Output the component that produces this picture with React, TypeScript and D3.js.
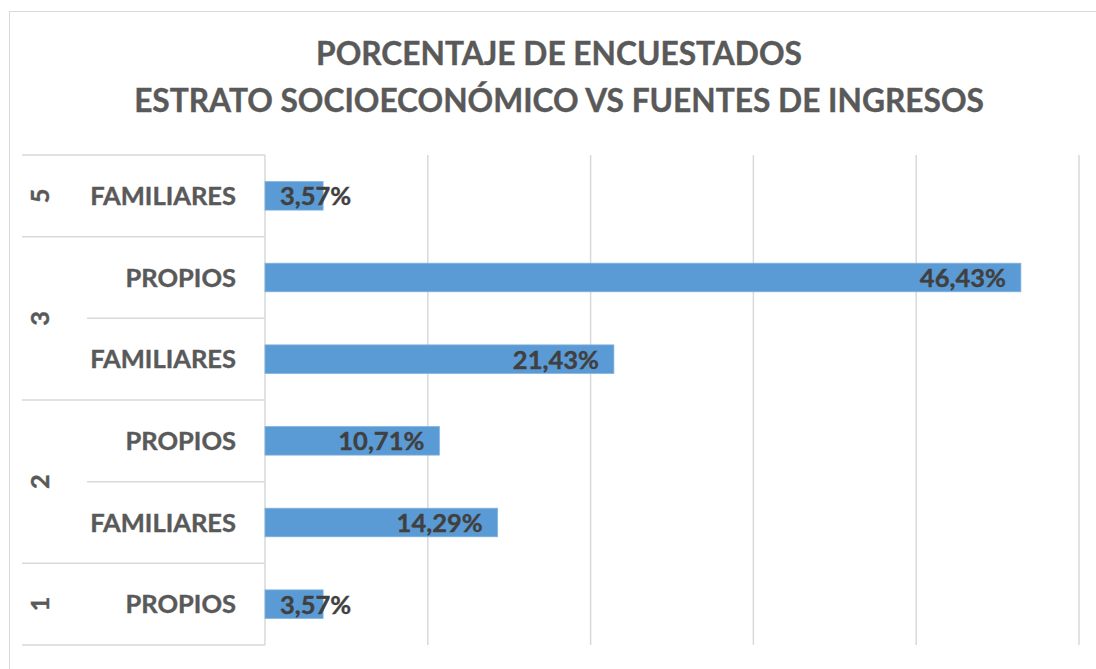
import { useEffect, useRef } from "react";
import * as d3 from "d3";

// rows listed from the bottom of the chart upward (Excel order)
const estratos = ["1", "2", "2", "3", "3", "5"];
const fuentes = ["PROPIOS", "FAMILIARES", "PROPIOS", "FAMILIARES", "PROPIOS", "FAMILIARES"];
const porcentajes = [3.57, 14.29, 10.71, 21.43, 46.43, 3.57];
const xTicks = [0, 10, 20, 30, 40, 50];
const titleLines = ["PORCENTAJE DE ENCUESTADOS", "ESTRATO SOCIOECONÓMICO VS FUENTES DE INGRESOS"];

export default function App() {
  const ref = useRef<SVGSVGElement | null>(null);

  useEffect(() => {
    if (!ref.current) return;

    const width = 1096;
    const height = 669;
    const margin = { top: 155, right: 17, bottom: 24, left: 265 };
    const font = "Lato, 'Open Sans', sans-serif";

    const svg = d3.select(ref.current).attr("viewBox", `0 0 ${width} ${height}`);
    svg.selectAll("*").remove();

    // chart frame
    svg.append("rect")
      .attr("x", 9.5)
      .attr("y", 11.5)
      .attr("width", width)
      .attr("height", height)
      .attr("fill", "#fff")
      .attr("stroke", "#d9d9d9");

    /* ---------------- TITLE ---------------- */

    svg.selectAll(".title")
      .data(titleLines)
      .enter()
      .append("text")
      .attr("x", 559)
      .attr("y", (_, i) => 65 + i * 47)
      .attr("text-anchor", "middle")
      .attr("font-family", font)
      .attr("font-weight", 700)
      .attr("font-size", 31.7)
      .attr("fill", "#595959")
      .attr("stroke", "#595959")
      .attr("stroke-width", 0.4)
      .text(d => d);

    const x = d3.scaleLinear()
      .domain([0, 50])
      .range([margin.left, width - margin.right]);

    const rows = d3.range(porcentajes.length);
    const y = d3.scaleBand<number>()
      .domain(rows)
      .range([height - margin.bottom, margin.top]);

    const step = y.step();
    const barH = step * 0.35;

    /* ---------------- GRID LINES ---------------- */

    svg.selectAll(".grid")
      .data(xTicks)
      .enter()
      .append("line")
      .attr("x1", d => x(d))
      .attr("x2", d => x(d))
      .attr("y1", margin.top)
      .attr("y2", height - margin.bottom)
      .attr("stroke", "#d9d9d9")
      .attr("stroke-width", 1.5);

    /* ---------------- CATEGORY AXIS ---------------- */

    // boundaries between rows: long line when estrato changes
    const bounds = d3.range(porcentajes.length + 1).map(i => {
      const yy = i === porcentajes.length ? y(i - 1)! : y(i)! + step;
      const outer = i === 0 || i === porcentajes.length || estratos[i] !== estratos[i - 1];
      return { yy, outer };
    });

    svg.selectAll(".sep")
      .data(bounds)
      .enter()
      .append("line")
      .attr("x1", d => (d.outer ? 22 : 87))
      .attr("x2", margin.left)
      .attr("y1", d => d.yy)
      .attr("y2", d => d.yy)
      .attr("stroke", "#d9d9d9")
      .attr("stroke-width", 1.5);

    svg.selectAll(".fuente")
      .data(fuentes)
      .enter()
      .append("text")
      .attr("x", 236)
      .attr("y", (_, i) => y(i)! + step / 2)
      .attr("dy", "0.36em")
      .attr("text-anchor", "end")
      .attr("font-family", font)
      .attr("font-weight", 700)
      .attr("font-size", 25.5)
      .attr("fill", "#595959")
      .attr("stroke", "#595959")
      .attr("stroke-width", 0.4)
      .text(d => d);

    const groups = Array.from(d3.group(rows, i => estratos[i]), ([k, idx]) => ({
      k,
      mid: (d3.min(idx, i => y(i)!)! + d3.max(idx, i => y(i)!)! + step) / 2,
    }));

    svg.selectAll(".estrato")
      .data(groups)
      .enter()
      .append("text")
      .attr("transform", d => `translate(40,${d.mid}) rotate(-90)`)
      .attr("dy", "0.36em")
      .attr("text-anchor", "middle")
      .attr("font-family", font)
      .attr("font-weight", 700)
      .attr("font-size", 25.5)
      .attr("fill", "#595959")
      .attr("stroke", "#595959")
      .attr("stroke-width", 0.4)
      .text(d => d.k);

    /* ---------------- BARS ---------------- */

    svg.selectAll(".bar")
      .data(porcentajes)
      .enter()
      .append("rect")
      .attr("x", x(0))
      .attr("y", (_, i) => y(i)! + (step - barH) / 2)
      .attr("width", d => x(d) - x(0))
      .attr("height", barH)
      .attr("fill", "#5b9bd5")
      .attr("stroke", "#7fb2e0")
      .attr("stroke-width", 0.75);

    const fmt = (v: number) => v.toFixed(2).replace(".", ",") + "%";

    svg.selectAll(".val")
      .data(porcentajes)
      .enter()
      .append("text")
      .attr("y", (_, i) => y(i)! + step / 2)
      .attr("dy", "0.37em")
      .attr("font-family", font)
      .attr("font-weight", 700)
      .attr("font-size", 25.5)
      .attr("fill", "#404040")
      .attr("stroke", "#404040")
      .attr("stroke-width", 0.4)
      .text(d => fmt(d))
      .attr("x", function (d) {
        const w = (this as SVGTextElement).getComputedTextLength();
        return Math.max(x(d) - 15 - w, x(0) + 15);
      });
  }, []);

  return (
    <svg
      ref={ref}
      width={1096}
      height={669}
      style={{ position: "absolute", left: 0, top: 0, background: "#fff" }}
    />
  );
}
